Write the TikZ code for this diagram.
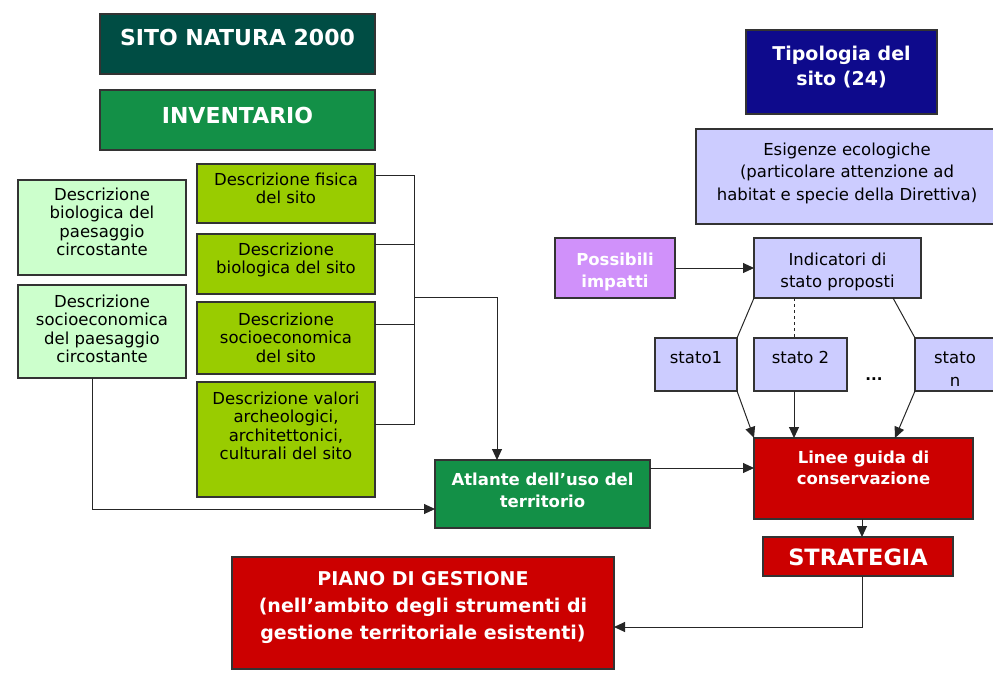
\documentclass[tikz,border=0pt]{standalone}
\usepackage{fontspec}
\setmainfont{DejaVu Sans}
\usetikzlibrary{arrows.meta,positioning,calc}
\definecolor{sitoteal}{RGB}{0,77,68}
\definecolor{invgreen}{RGB}{19,144,71}
\definecolor{palegreen}{RGB}{204,255,204}
\definecolor{limegreen}{RGB}{153,204,0}
\definecolor{navyblue}{RGB}{14,10,140}
\definecolor{lavender}{RGB}{204,204,255}
\definecolor{lilac}{RGB}{208,145,250}
\definecolor{boxred}{RGB}{204,0,0}
% width, height, first baseline, text
\newcommand{\topbox}[4]{\parbox[c][#2][t]{#1}{\centering\vspace*{\dimexpr#3-0.7\baselineskip\relax}\strut#4}}

\begin{document}
\begin{tikzpicture}[
    x=1pt, y=-1pt,
    box/.style={draw=black!80, line width=1.2pt, inner sep=0pt, outer sep=0pt},
    hd/.style={font=\bfseries\fontsize{22}{26}\selectfont, text=white},
    wt/.style={font=\bfseries\fontsize{16.5}{22}\selectfont, text=white},
    txt/.style={font=\fontsize{16.5}{18.6}\selectfont},
    arrow/.style={-{Triangle[length=11pt, width=10pt]}, line width=1pt, black!85},
    link/.style={line width=1pt, black!85}
]
\useasboundingbox (0,0) rectangle (993,675);

% Inventario (left)
\node[box, fill=sitoteal, hd] (sito) at (237.5,44) {\topbox{275pt}{60pt}{31pt}{SITO NATURA 2000}};
\node[box, fill=invgreen, hd] (inv) at (237.5,120) {\topbox{275pt}{60pt}{33pt}{INVENTARIO}};

\node[box, fill=palegreen, txt] (biop) at (102,227.5) {\topbox{168pt}{95pt}{20pt}{Descrizione\\biologica del\\paesaggio\\circostante}};
\node[box, fill=palegreen, txt] (socp) at (102,331.5) {\topbox{168pt}{93pt}{22pt}{Descrizione\\socioeconomica\\del paesaggio\\circostante}};

\node[box, fill=limegreen, txt] (fis) at (286,193.5) {\topbox{178pt}{59pt}{21pt}{Descrizione fisica\\del sito}};
\node[box, fill=limegreen, txt] (bios) at (286,264) {\topbox{178pt}{60pt}{21pt}{Descrizione\\biologica del sito}};
\node[box, fill=limegreen, txt] (socs) at (286,338) {\topbox{178pt}{72pt}{23pt}{Descrizione\\socioeconomica\\del sito}};
\node[box, fill=limegreen, txt] (val) at (286,439.5) {\topbox{178pt}{115pt}{22pt}{Descrizione valori\\archeologici,\\architettonici,\\culturali del sito}};

\node[box, fill=invgreen, wt] (atl) at (542.5,494) {\topbox{215pt}{68pt}{25pt}{Atlante dell’uso del\\territorio}};

% Tipologia (right)
\node[box, fill=navyblue, font=\bfseries\fontsize{19}{25}\selectfont, text=white] (tip) at (841.5,72) {\topbox{191pt}{84pt}{30pt}{Tipologia del\\sito (24)}};
\node[box, fill=lavender, font=\fontsize{16.5}{22.5}\selectfont] (esi) at (847,176.5) {\topbox{302pt}{95pt}{26pt}{Esigenze ecologiche\\(particolare attenzione ad\\habitat e specie della Direttiva)}};

\node[box, fill=lilac, wt] (pos) at (615,268) {\topbox{120pt}{60pt}{27pt}{Possibili\\impatti}};
\node[box, fill=lavender, txt, font=\fontsize{16.5}{22}\selectfont] (ind) at (837.5,268) {\topbox{167pt}{60pt}{27pt}{Indicatori di\\stato proposti}};

\node[box, fill=lavender, txt] (s1) at (696,364.5) {\topbox{82pt}{53pt}{25pt}{stato1}};
\node[box, fill=lavender, txt] (s2) at (800.5,364.5) {\topbox{93pt}{53pt}{25pt}{stato 2}};
\node[box, fill=lavender, font=\fontsize{16.5}{23}\selectfont] (sn) at (955,364.5) {\topbox{80pt}{53pt}{25pt}{stato\\n}};
\node[font=\bfseries\fontsize{15}{16}\selectfont] (dots) at (874,379) {...};

\node[box, fill=boxred, font=\bfseries\fontsize{16.5}{21}\selectfont, text=white] (lin) at (863.5,478.5) {\topbox{219pt}{81pt}{25pt}{Linee guida di\\conservazione}};
\node[box, fill=boxred, font=\bfseries\fontsize{22.5}{24}\selectfont, text=white] (str) at (858,556.5) {\topbox{190pt}{39pt}{28pt}{STRATEGIA}};
\node[box, fill=boxred, font=\bfseries\fontsize{19}{27}\selectfont, text=white] (pia) at (423,613) {\topbox{382pt}{112pt}{28pt}{PIANO DI GESTIONE\\(nell’ambito degli strumenti di\\gestione territoriale esistenti)}};

% Bracket of the site descriptions
\coordinate (brtop) at (414,175);
\coordinate (brbot) at (414,424);
\coordinate (junc) at (414,297);
\draw[link] (fis.east |- brtop) -- (brtop) -- (brbot) -- (val.east |- brbot);
\draw[link] (bios.east |- 0,244) -- (brtop |- 0,244);
\draw[link] (socs.east |- 0,324) -- (brtop |- 0,324);
\draw[arrow] (junc) -| (atl.north -| 497,0);
\draw[arrow] (socp.south -| 92,0) |- (atl.west |- 0,509);

% Right flow
\draw[arrow] (atl.east |- 0,468) -- (lin.west |- 0,468);
\draw[arrow] (pos) -- (ind);
\draw[link] (ind.south west) -- (s1.north east);
\draw[link, dashed] (ind.south -| 794,0) -- (s2.north -| 794,0);
\draw[link] (ind.south -| 893,0) -- (sn.north west);
\draw[arrow] (s1.south east) -- (lin.north west);
\draw[arrow] (s2.south -| 794,0) -- (lin.north -| 794,0);
\draw[arrow] (sn.south west) -- (lin.north -| 895,0);
\draw[arrow] (lin.south -| 862,0) -- (str.north -| 862,0);
\draw[arrow] (str.south -| 862,0) |- (pia.east |- 0,627);

\end{tikzpicture}
\end{document}
